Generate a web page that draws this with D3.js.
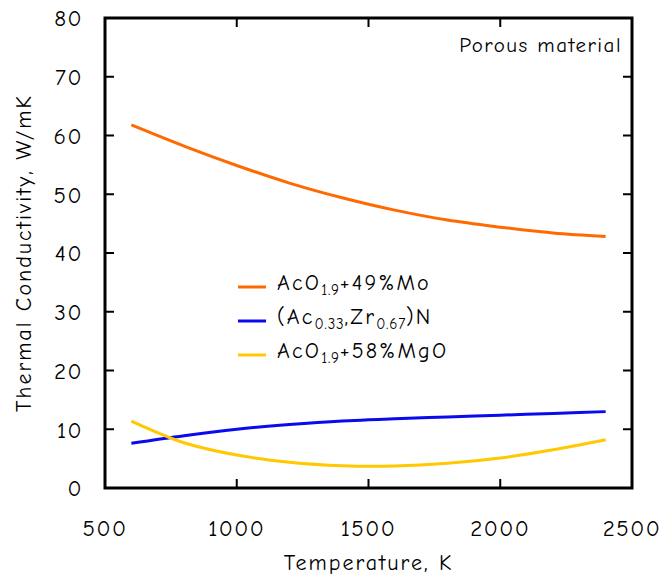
<!DOCTYPE html>
<html>
<head>
<meta charset="utf-8">
<script src="https://cdn.jsdelivr.net/npm/d3@7"></script>
<style>
  body { margin: 0; background: #fff; }
  svg text { font-family: "Comic Sans MS", "Comic Neue", "DejaVu Sans", sans-serif; fill: #000; }
</style>
</head>
<body>
<div id="chart"></div>
<script>
// temperatures, K
var temps = [600, 800, 1000, 1200, 1400, 1500, 1600, 1800, 2000, 2200, 2400];
// thermal conductivity, W/mK
var moValues  = [61.8, 58.2, 54.9, 51.9, 49.4, 48.3, 47.3, 45.6, 44.4, 43.4, 42.8];
var znValues  = [7.6, 8.9, 10.0, 10.8, 11.4, 11.6, 11.8, 12.1, 12.4, 12.7, 13.0];
var mgoValues = [11.4, 7.7, 5.6, 4.4, 3.8, 3.7, 3.75, 4.2, 5.1, 6.5, 8.2];
var xTicks = [500, 1000, 1500, 2000, 2500];
var yTicks = [0, 10, 20, 30, 40, 50, 60, 70, 80];

var seriesList = [
	{name: "mo", values: moValues, color: "#ff6a00",
	 label: [["AcO", 0], ["1.9", 1], ["+49%Mo", 0]]},
	{name: "zn", values: znValues, color: "#0a0aee",
	 label: [["(Ac", 0], ["0.33", 1], [",Zr", 0], ["0.67", 1], [")N", 0]]},
	{name: "mgo", values: mgoValues, color: "#ffc800",
	 label: [["AcO", 0], ["1.9", 1], ["+58%MgO", 0]]}
];

var w = 661, h = 579;
var margin = {left: 105, right: 29, top: 18, bottom: 91};
var pw = w - margin.left - margin.right;
var ph = h - margin.top - margin.bottom;

var x = d3.scaleLinear().domain([500, 2500]).range([0, pw]);
var y = d3.scaleLinear().domain([0, 80]).range([ph, 0]);

var svg = d3.select("#chart").append("svg")
	.attr("width", w).attr("height", h);

var chart = svg.append("g")
	.attr("transform", "translate(" + margin.left + "," + margin.top + ")");

// inward ticks on all four sides
var tickLen = 9;
chart.selectAll(".xtick-b").data(xTicks).enter().append("line")
	.attr("x1", function(d) { return x(d); }).attr("x2", function(d) { return x(d); })
	.attr("y1", ph).attr("y2", ph - tickLen)
	.attr("stroke", "#000").attr("stroke-width", 2);
chart.selectAll(".xtick-t").data(xTicks).enter().append("line")
	.attr("x1", function(d) { return x(d); }).attr("x2", function(d) { return x(d); })
	.attr("y1", 0).attr("y2", tickLen)
	.attr("stroke", "#000").attr("stroke-width", 2);
chart.selectAll(".ytick-l").data(yTicks).enter().append("line")
	.attr("x1", 0).attr("x2", tickLen)
	.attr("y1", function(d) { return y(d); }).attr("y2", function(d) { return y(d); })
	.attr("stroke", "#000").attr("stroke-width", 2);
chart.selectAll(".ytick-r").data(yTicks).enter().append("line")
	.attr("x1", pw).attr("x2", pw - tickLen)
	.attr("y1", function(d) { return y(d); }).attr("y2", function(d) { return y(d); })
	.attr("stroke", "#000").attr("stroke-width", 2);

chart.append("rect")
	.attr("x", 0).attr("y", 0).attr("width", pw).attr("height", ph)
	.attr("fill", "none").attr("stroke", "#000").attr("stroke-width", 3);

// tick labels
chart.selectAll(".xlab").data(xTicks).enter().append("text")
	.attr("x", function(d) { return x(d); })
	.attr("y", ph + 48)
	.attr("text-anchor", "middle")
	.style("font-size", "23px")
	.style("letter-spacing", "1.5px")
	.text(function(d) { return d; });
chart.selectAll(".ylab").data(yTicks).enter().append("text")
	.attr("x", -22)
	.attr("y", function(d) { return y(d); })
	.attr("dy", "0.36em")
	.attr("text-anchor", "end")
	.style("font-size", "23px")
	.style("letter-spacing", "1.5px")
	.text(function(d) { return d; });

// axis titles
svg.append("text")
	.attr("x", margin.left + pw / 2)
	.attr("y", 570)
	.attr("text-anchor", "middle")
	.style("font-size", "22px")
	.style("letter-spacing", "2px")
	.text("Temperature, K");
svg.append("text")
	.attr("transform", "translate(31," + (margin.top + ph / 2) + ") rotate(-90)")
	.attr("text-anchor", "middle")
	.style("font-size", "22px")
	.style("letter-spacing", "2px")
	.text("Thermal Conductivity, W/mK");

svg.append("text")
	.attr("x", margin.left + pw - 10)
	.attr("y", 52)
	.attr("text-anchor", "end")
	.style("font-size", "21px")
	.style("letter-spacing", "1.5px")
	.text("Porous material");

// curves
var line = d3.line()
	.x(function(d) { return x(d[0]); })
	.y(function(d) { return y(d[1]); })
	.curve(d3.curveMonotoneX);

seriesList.forEach(function(s) {
	chart.append("path")
		.datum(temps.map(function(t, i) { return [t, s.values[i]]; }))
		.attr("class", "line-" + s.name)
		.attr("fill", "none")
		.attr("stroke", s.color)
		.attr("stroke-width", 3)
		.attr("d", line);
});

// legend
var legend = svg.append("g").attr("class", "legend")
	.attr("transform", "translate(238,287)");
seriesList.forEach(function(s, i) {
	var g = legend.append("g").attr("transform", "translate(0," + (i * 34) + ")");
	g.append("line")
		.attr("x1", 0).attr("x2", 28).attr("y1", 0).attr("y2", 0)
		.attr("stroke", s.color).attr("stroke-width", 3);
	var t = g.append("text")
		.attr("x", 39).attr("y", 8)
		.style("font-size", "22px")
		.style("letter-spacing", "2.2px");
	s.label.forEach(function(p) {
		if (p[1]) {
			t.append("tspan").attr("dy", 5).style("font-size", "15px").style("letter-spacing", "0.8px").text(p[0]);
		} else {
			t.append("tspan").attr("dy", t.selectAll("tspan").size() ? -5 : 0).text(p[0]);
		}
	});
});
</script>
</body>
</html>
